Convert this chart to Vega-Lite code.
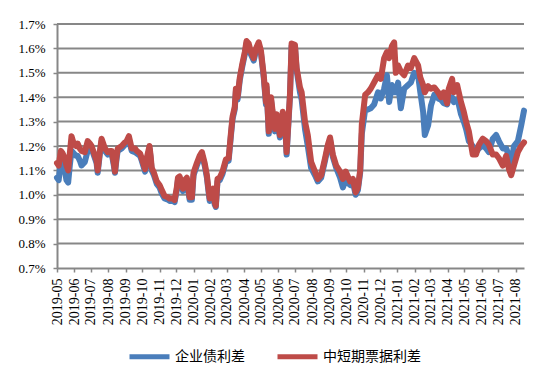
{
  "$schema": "https://vega.github.io/schema/vega-lite/v6.json",
  "width": 467,
  "height": 244,
  "autosize": {"type": "none"},
  "padding": {"left": 57, "top": 24, "right": 25, "bottom": 117},
  "background": "white",
  "config": {
    "view": {"stroke": null},
    "axis": {"labelFont": "Liberation Serif", "labelColor": "#000", "domainColor": "#878787", "tickColor": "#878787", "domainWidth": 2, "tickWidth": 1.5, "grid": false}
  },
  "data": {"values": [
    {"d":"2019-05-01","b":1.07,"r":1.13},{"d":"2019-05-04","b":1.06,"r":1.12},{"d":"2019-05-08","b":1.14,"r":1.18},{"d":"2019-05-11","b":1.13,"r":1.17},{"d":"2019-05-15","b":1.10,"r":1.15},{"d":"2019-05-18","b":1.06,"r":1.12},{"d":"2019-05-21","b":1.05,"r":1.10},{"d":"2019-05-24","b":1.12,"r":1.17},{"d":"2019-05-27","b":1.18,"r":1.24},{"d":"2019-05-31","b":1.17,"r":1.21},
    {"d":"2019-06-04","b":1.16,"r":1.20},{"d":"2019-06-07","b":1.16,"r":1.21},{"d":"2019-06-11","b":1.14,"r":1.19},{"d":"2019-06-14","b":1.12,"r":1.18},{"d":"2019-06-20","b":1.135,"r":1.175},{"d":"2019-06-25","b":1.18,"r":1.22},{"d":"2019-06-29","b":1.19,"r":1.21},
    {"d":"2019-07-02","b":1.19,"r":1.20},{"d":"2019-07-08","b":1.15,"r":1.16},{"d":"2019-07-11","b":1.13,"r":1.14},{"d":"2019-07-13","b":1.09,"r":1.10},{"d":"2019-07-17","b":1.17,"r":1.18},{"d":"2019-07-20","b":1.22,"r":1.23},{"d":"2019-07-26","b":1.18,"r":1.19},{"d":"2019-07-31","b":1.165,"r":1.175},
    {"d":"2019-08-04","b":1.17,"r":1.18},{"d":"2019-08-07","b":1.17,"r":1.18},{"d":"2019-08-11","b":1.12,"r":1.13},{"d":"2019-08-13","b":1.09,"r":1.095},{"d":"2019-08-16","b":1.15,"r":1.16},{"d":"2019-08-18","b":1.18,"r":1.19},{"d":"2019-08-25","b":1.19,"r":1.20},{"d":"2019-08-31","b":1.205,"r":1.215},
    {"d":"2019-09-03","b":1.21,"r":1.22},{"d":"2019-09-07","b":1.225,"r":1.24},{"d":"2019-09-12","b":1.18,"r":1.19},{"d":"2019-09-18","b":1.175,"r":1.19},{"d":"2019-09-21","b":1.17,"r":1.18},{"d":"2019-09-27","b":1.16,"r":1.17},{"d":"2019-09-30","b":1.14,"r":1.15},
    {"d":"2019-10-04","b":1.11,"r":1.12},{"d":"2019-10-06","b":1.095,"r":1.105},{"d":"2019-10-09","b":1.14,"r":1.15},{"d":"2019-10-13","b":1.18,"r":1.19},{"d":"2019-10-14","b":1.19,"r":1.20},{"d":"2019-10-16","b":1.15,"r":1.16},{"d":"2019-10-18","b":1.10,"r":1.11},{"d":"2019-10-22","b":1.08,"r":1.09},{"d":"2019-10-27","b":1.045,"r":1.055},
    {"d":"2019-11-01","b":1.03,"r":1.04},{"d":"2019-11-05","b":1.005,"r":1.02},{"d":"2019-11-10","b":0.985,"r":0.995},{"d":"2019-11-16","b":0.98,"r":0.99},{"d":"2019-11-19","b":0.975,"r":0.985},{"d":"2019-11-25","b":0.975,"r":0.985},{"d":"2019-11-28","b":0.97,"r":0.978},
    {"d":"2019-12-02","b":1.02,"r":1.03},{"d":"2019-12-04","b":1.06,"r":1.07},{"d":"2019-12-07","b":1.065,"r":1.075},{"d":"2019-12-11","b":1.04,"r":1.05},{"d":"2019-12-13","b":1.015,"r":1.025},{"d":"2019-12-16","b":1.05,"r":1.06},{"d":"2019-12-20","b":1.06,"r":1.07},{"d":"2019-12-23","b":1.01,"r":1.02},{"d":"2019-12-25","b":0.98,"r":0.99},{"d":"2019-12-29","b":0.98,"r":0.99},
    {"d":"2020-01-01","b":1.08,"r":1.09},{"d":"2020-01-07","b":1.12,"r":1.13},{"d":"2020-01-12","b":1.15,"r":1.16},{"d":"2020-01-16","b":1.165,"r":1.175},{"d":"2020-01-21","b":1.12,"r":1.13},{"d":"2020-01-25","b":1.07,"r":1.08},{"d":"2020-01-27","b":1.03,"r":1.04},{"d":"2020-01-30","b":0.975,"r":0.985},
    {"d":"2020-02-03","b":1.01,"r":1.02},{"d":"2020-02-05","b":1.015,"r":1.025},{"d":"2020-02-08","b":0.96,"r":0.97},{"d":"2020-02-10","b":0.95,"r":0.955},{"d":"2020-02-13","b":1.055,"r":1.065},{"d":"2020-02-17","b":1.06,"r":1.07},{"d":"2020-02-22","b":1.085,"r":1.095},{"d":"2020-02-28","b":1.135,"r":1.145},
    {"d":"2020-03-04","b":1.14,"r":1.15},{"d":"2020-03-08","b":1.24,"r":1.25},{"d":"2020-03-11","b":1.31,"r":1.32},{"d":"2020-03-15","b":1.35,"r":1.36},{"d":"2020-03-17","b":1.425,"r":1.435},{"d":"2020-03-20","b":1.39,"r":1.40},{"d":"2020-03-24","b":1.47,"r":1.48},{"d":"2020-03-28","b":1.52,"r":1.53},
    {"d":"2020-04-02","b":1.575,"r":1.585},{"d":"2020-04-05","b":1.62,"r":1.63},{"d":"2020-04-09","b":1.61,"r":1.62},{"d":"2020-04-13","b":1.575,"r":1.585},{"d":"2020-04-18","b":1.55,"r":1.56},{"d":"2020-04-22","b":1.59,"r":1.60},{"d":"2020-04-27","b":1.615,"r":1.625},
    {"d":"2020-05-01","b":1.58,"r":1.59},{"d":"2020-05-06","b":1.48,"r":1.49},{"d":"2020-05-10","b":1.37,"r":1.38},{"d":"2020-05-11","b":1.44,"r":1.45},{"d":"2020-05-15","b":1.25,"r":1.26},{"d":"2020-05-19","b":1.39,"r":1.40},{"d":"2020-05-22","b":1.33,"r":1.34},{"d":"2020-05-26","b":1.26,"r":1.27},{"d":"2020-05-29","b":1.32,"r":1.33},
    {"d":"2020-06-04","b":1.235,"r":1.245},{"d":"2020-06-09","b":1.33,"r":1.34},{"d":"2020-06-13","b":1.305,"r":1.315},{"d":"2020-06-16","b":1.165,"r":1.175},{"d":"2020-06-22","b":1.40,"r":1.41},{"d":"2020-06-25","b":1.61,"r":1.62},
    {"d":"2020-07-01","b":1.605,"r":1.615},{"d":"2020-07-04","b":1.51,"r":1.52},{"d":"2020-07-10","b":1.42,"r":1.44},{"d":"2020-07-13","b":1.39,"r":1.42},{"d":"2020-07-19","b":1.27,"r":1.30},{"d":"2020-07-24","b":1.20,"r":1.245},{"d":"2020-07-30","b":1.11,"r":1.135},
    {"d":"2020-08-06","b":1.08,"r":1.095},{"d":"2020-08-11","b":1.055,"r":1.065},{"d":"2020-08-17","b":1.07,"r":1.08},{"d":"2020-08-24","b":1.14,"r":1.15},{"d":"2020-08-29","b":1.195,"r":1.205},
    {"d":"2020-09-02","b":1.225,"r":1.235},{"d":"2020-09-07","b":1.155,"r":1.165},{"d":"2020-09-13","b":1.11,"r":1.12},{"d":"2020-09-20","b":1.07,"r":1.095},{"d":"2020-09-25","b":1.03,"r":1.065},{"d":"2020-09-30","b":1.06,"r":1.095},
    {"d":"2020-10-08","b":1.04,"r":1.055},{"d":"2020-10-13","b":1.05,"r":1.065},{"d":"2020-10-18","b":1.00,"r":1.01},{"d":"2020-10-22","b":1.02,"r":1.03},{"d":"2020-10-26","b":1.09,"r":1.10},{"d":"2020-10-29","b":1.25,"r":1.29},
    {"d":"2020-11-04","b":1.35,"r":1.41},{"d":"2020-11-09","b":1.35,"r":1.42},{"d":"2020-11-14","b":1.355,"r":1.435},{"d":"2020-11-20","b":1.37,"r":1.46},{"d":"2020-11-27","b":1.42,"r":1.49},
    {"d":"2020-12-02","b":1.395,"r":1.475},{"d":"2020-12-08","b":1.435,"r":1.56},{"d":"2020-12-13","b":1.49,"r":1.585},{"d":"2020-12-17","b":1.38,"r":1.56},{"d":"2020-12-22","b":1.45,"r":1.61},{"d":"2020-12-26","b":1.42,"r":1.625},{"d":"2020-12-29","b":1.42,"r":1.50},
    {"d":"2021-01-02","b":1.46,"r":1.53},{"d":"2021-01-07","b":1.355,"r":1.505},{"d":"2021-01-13","b":1.435,"r":1.49},{"d":"2021-01-20","b":1.45,"r":1.53},{"d":"2021-01-25","b":1.46,"r":1.52},{"d":"2021-01-31","b":1.50,"r":1.56},
    {"d":"2021-02-07","b":1.49,"r":1.53},{"d":"2021-02-11","b":1.42,"r":1.48},{"d":"2021-02-16","b":1.34,"r":1.45},{"d":"2021-02-19","b":1.245,"r":1.42},{"d":"2021-02-25","b":1.285,"r":1.445},
    {"d":"2021-03-02","b":1.365,"r":1.435},{"d":"2021-03-08","b":1.41,"r":1.44},{"d":"2021-03-15","b":1.395,"r":1.42},{"d":"2021-03-20","b":1.39,"r":1.40},{"d":"2021-03-25","b":1.375,"r":1.42},{"d":"2021-03-31","b":1.37,"r":1.375},
    {"d":"2021-04-03","b":1.40,"r":1.435},{"d":"2021-04-09","b":1.40,"r":1.475},{"d":"2021-04-12","b":1.38,"r":1.42},{"d":"2021-04-18","b":1.39,"r":1.45},{"d":"2021-04-21","b":1.37,"r":1.42},{"d":"2021-04-25","b":1.33,"r":1.38},{"d":"2021-04-30","b":1.30,"r":1.34},
    {"d":"2021-05-04","b":1.27,"r":1.30},{"d":"2021-05-09","b":1.22,"r":1.26},{"d":"2021-05-16","b":1.20,"r":1.165},{"d":"2021-05-22","b":1.175,"r":1.165},{"d":"2021-05-27","b":1.19,"r":1.205},
    {"d":"2021-06-03","b":1.205,"r":1.23},{"d":"2021-06-09","b":1.19,"r":1.22},{"d":"2021-06-14","b":1.175,"r":1.205},{"d":"2021-06-21","b":1.23,"r":1.165},{"d":"2021-06-27","b":1.245,"r":1.165},
    {"d":"2021-07-02","b":1.22,"r":1.15},{"d":"2021-07-09","b":1.19,"r":1.12},{"d":"2021-07-15","b":1.19,"r":1.16},{"d":"2021-07-20","b":1.16,"r":1.105},{"d":"2021-07-24","b":1.12,"r":1.08},{"d":"2021-07-29","b":1.20,"r":1.12},
    {"d":"2021-08-05","b":1.22,"r":1.175},{"d":"2021-08-11","b":1.285,"r":1.20},{"d":"2021-08-16","b":1.345,"r":1.215}
  ]},
  "layer": [
    {"data": {"values": [{}]}, "mark": {"type": "rule", "color": "#878787", "strokeWidth": 2}, "encoding": {"y": {"datum": 0.8, "type": "quantitative", "title": null}}},
    {"data": {"values": [{}]}, "mark": {"type": "rule", "color": "#878787", "strokeWidth": 2}, "encoding": {"y": {"datum": 0.9, "type": "quantitative", "title": null}}},
    {"data": {"values": [{}]}, "mark": {"type": "rule", "color": "#878787", "strokeWidth": 2}, "encoding": {"y": {"datum": 1.0, "type": "quantitative", "title": null}}},
    {"data": {"values": [{}]}, "mark": {"type": "rule", "color": "#878787", "strokeWidth": 2}, "encoding": {"y": {"datum": 1.1, "type": "quantitative", "title": null}}},
    {"data": {"values": [{}]}, "mark": {"type": "rule", "color": "#878787", "strokeWidth": 2}, "encoding": {"y": {"datum": 1.2, "type": "quantitative", "title": null}}},
    {"data": {"values": [{}]}, "mark": {"type": "rule", "color": "#878787", "strokeWidth": 2}, "encoding": {"y": {"datum": 1.3, "type": "quantitative", "title": null}}},
    {"data": {"values": [{}]}, "mark": {"type": "rule", "color": "#878787", "strokeWidth": 2}, "encoding": {"y": {"datum": 1.4, "type": "quantitative", "title": null}}},
    {"data": {"values": [{}]}, "mark": {"type": "rule", "color": "#878787", "strokeWidth": 2}, "encoding": {"y": {"datum": 1.5, "type": "quantitative", "title": null}}},
    {"data": {"values": [{}]}, "mark": {"type": "rule", "color": "#878787", "strokeWidth": 2}, "encoding": {"y": {"datum": 1.6, "type": "quantitative", "title": null}}},
    {"data": {"values": [{}]}, "mark": {"type": "rule", "color": "#878787", "strokeWidth": 2}, "encoding": {"y": {"datum": 1.7, "type": "quantitative", "title": null}}},
    {
      "transform": [{"fold": ["b", "r"], "as": ["k", "v"]}],
      "mark": {"type": "line", "strokeWidth": 6, "strokeJoin": "round", "strokeCap": "round"},
      "encoding": {
        "x": {
          "field": "d", "type": "temporal", "title": null,
          "scale": {"domain": ["2019-05-01", "2021-08-16"], "nice": false},
          "axis": {"format": "%Y-%m", "tickCount": {"interval": "month", "step": 1}, "labelAngle": -90, "labelFontSize": 14, "labelPadding": 6, "tickSize": 4, "grid": false, "labelOverlap": false, "labelFlush": false, "labelBound": false}
        },
        "y": {"field": "v", "type": "quantitative", "title": null, "scale": {"domain": [0.7, 1.7], "nice": false, "zero": false},
          "axis": {"tickCount": 10, "labelExpr": "format(datum.value, '.1f') + '%'", "labelFontSize": 13, "tickSize": 4, "labelPadding": 8, "grid": false, "labelOverlap": false, "labelBound": false}},
        "color": {"field": "k", "type": "nominal",
          "scale": {"domain": ["b", "r"], "range": ["#4A7EBB", "#BE4B48"]},
          "legend": {"title": null, "orient": "none", "direction": "horizontal", "legendX": 70, "legendY": 310, "symbolType": "stroke", "symbolSize": 1600, "symbolStrokeWidth": 5, "labelFont": "Noto Sans CJK SC", "labelFontSize": 14, "labelColor": "#000", "columnPadding": 22, "labelOffset": 3, "padding": 0, "labelExpr": "datum.value == 'b' ? '企业债利差' : '中短期票据利差'"}}
      }
    }
  ]
}
